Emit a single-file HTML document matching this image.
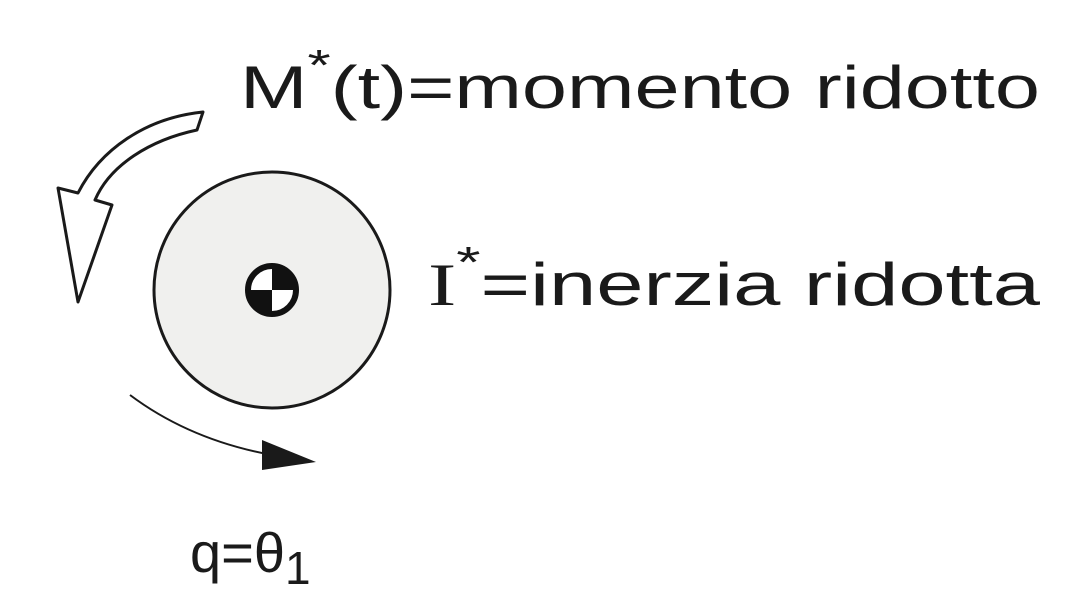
<!DOCTYPE html>
<html><head><meta charset="utf-8"><style>
html,body{margin:0;padding:0;background:#fff;}
svg{display:block;}
text{font-family:"Liberation Sans",sans-serif;fill:#1a1a1a;}
</style></head><body>
<svg width="1081" height="604" viewBox="0 0 1081 604">
  <g>
    <circle cx="272" cy="290" r="118" fill="#f0f0ee" stroke="#1a1a1a" stroke-width="3"/>
  </g>
  <g>
    <circle cx="272" cy="290" r="24" fill="#fff" stroke="#111" stroke-width="6"/>
    <path d="M272 290 L272 266 A24 24 0 0 1 296 290 Z" fill="#111"/>
    <path d="M272 290 L272 314 A24 24 0 0 1 248 290 Z" fill="#111"/>
  </g>
  <path
        d="M203 112 L197 130 C150 140 110 165 95 200 L112 205 L78 302 L58 188 L78 193 C100 150 145 118 203 112 Z"
        fill="#fff" stroke="#1a1a1a" stroke-width="3" stroke-linejoin="round"/>
  <g>
    <path d="M130 395 Q190 440 272 455" fill="none" stroke="#1a1a1a" stroke-width="2"/>
    <path d="M262 440 L316 462 L262 470 Z" fill="#1a1a1a"/>
  </g>
  <text x="240" y="108" font-size="60" textLength="800" lengthAdjust="spacingAndGlyphs">M<tspan dy="-28" font-size="44">*</tspan><tspan dy="28">(t)=momento ridotto</tspan></text>
  <text x="428" y="305" font-size="60" textLength="612" lengthAdjust="spacingAndGlyphs"><tspan font-family="Liberation Serif">I</tspan><tspan dy="-28" font-size="44">*</tspan><tspan dy="28">=inerzia ridotta</tspan></text>
  <text x="190" y="572" font-size="56">q=θ<tspan dy="12" font-size="46">1</tspan></text>
</svg>
</body></html>
